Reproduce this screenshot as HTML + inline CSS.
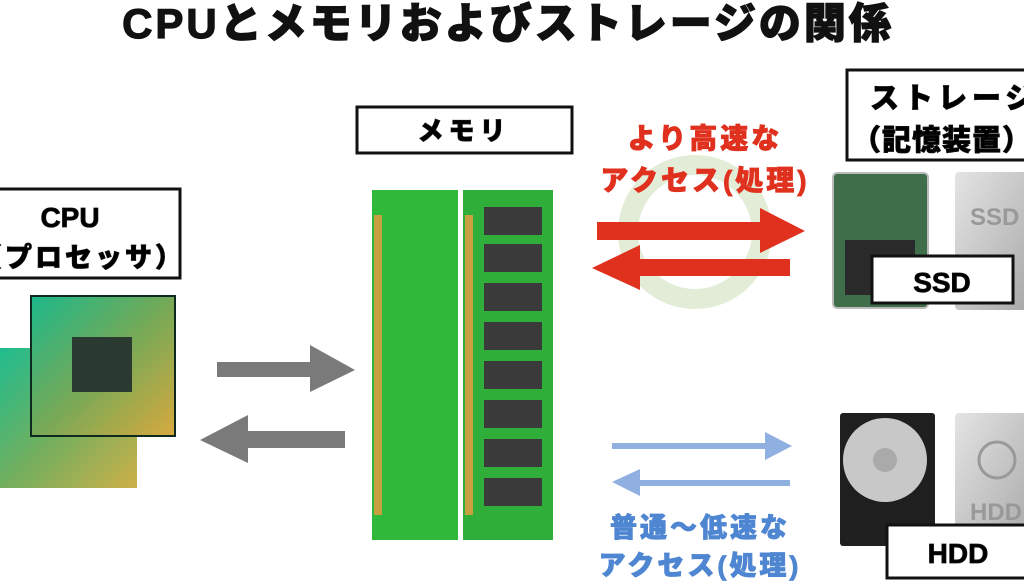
<!DOCTYPE html>
<html><head><meta charset="utf-8"><style>
body{margin:0;width:1024px;height:581px;overflow:hidden;background:#fff;font-family:"Liberation Sans","Noto Sans CJK JP",sans-serif}
svg text{font-family:"Liberation Sans","Noto Sans CJK JP",sans-serif;font-weight:900}
</style></head><body>
<svg width="1024" height="581" viewBox="0 0 1024 581">
<defs>
<linearGradient id="cpu" x1="0" y1="0" x2="1" y2="1">
<stop offset="0" stop-color="#1fbf8f"/><stop offset="0.5" stop-color="#7ab05a"/><stop offset="1" stop-color="#e0b040"/></linearGradient>
<linearGradient id="gr" x1="0" y1="0" x2="1" y2="1"><stop offset="0" stop-color="#e4e4e4"/><stop offset="1" stop-color="#a8a8a8"/></linearGradient>
</defs>
<text x="508" y="38" font-size="42" text-anchor="middle" fill="#111" letter-spacing="3" stroke="#111" stroke-width="1.2">CPUとメモリおよびストレージの関係</text>

<!-- CPU -->
<rect x="-10" y="189" width="190" height="89" fill="#fff" stroke="#111" stroke-width="3"/>
<text x="70" y="227" font-size="28" text-anchor="middle" stroke="#111" stroke-width="0.8">CPU</text>
<text x="80" y="267" font-size="27" text-anchor="middle" letter-spacing="3" stroke="#111" stroke-width="0.8">（プロセッサ）</text>
<rect x="0" y="348" width="137" height="140" fill="#1ea88a"/>
<rect x="0" y="348" width="137" height="140" fill="url(#cpu)" opacity="0.9"/>
<rect x="30" y="295" width="146" height="142" fill="#0e2a20"/>
<rect x="32" y="297" width="142" height="138" fill="url(#cpu)" opacity="0.95"/>
<rect x="72" y="337" width="60" height="55" fill="#2a3a30"/>
<polygon points="217,362 310,362 310,345 355,370 310,392 310,377 217,377" fill="#7a7a7a"/>
<polygon points="345,431 248,431 248,415 200,440 248,463 248,448 345,448" fill="#7a7a7a"/>

<!-- Memory -->
<rect x="357" y="107" width="215" height="46" fill="#fff" stroke="#111" stroke-width="3"/>
<text x="464" y="140" font-size="26" text-anchor="middle" letter-spacing="5" stroke="#111" stroke-width="0.8">メモリ</text>
<rect x="372" y="190" width="86" height="350" fill="#2fb83a"/>
<rect x="374" y="215" width="8" height="300" fill="#c8a040"/>
<rect x="463" y="190" width="90" height="350" fill="#2fae3a"/>
<rect x="465" y="215" width="8" height="300" fill="#c8a040"/>
<g fill="#3a3a3a">
<rect x="484" y="207" width="58" height="28"/><rect x="484" y="244" width="58" height="28"/><rect x="484" y="283" width="58" height="28"/><rect x="484" y="322" width="58" height="28"/><rect x="484" y="361" width="58" height="28"/><rect x="484" y="400" width="58" height="28"/><rect x="484" y="439" width="58" height="28"/><rect x="484" y="478" width="58" height="28"/></g>

<!-- fast -->
<circle cx="695" cy="232" r="67" fill="none" stroke="#e2ecd6" stroke-width="20"/>
<text x="705" y="148" font-size="28" text-anchor="middle" fill="#e0301e" letter-spacing="3" stroke="#e0301e" stroke-width="0.8">より高速な</text>
<text x="705" y="190" font-size="28" text-anchor="middle" fill="#e0301e" letter-spacing="3" stroke="#e0301e" stroke-width="0.8">アクセス(処理)</text>
<polygon points="597,222 760,222 760,208 805,231 760,253 760,240 597,240" fill="#e0301e"/>
<polygon points="790,259 640,259 640,245 592,268 640,290 640,276 790,276" fill="#e0301e"/>

<!-- slow -->
<polygon points="612,443 765,443 765,432 792,446 765,460 765,449 612,449" fill="#8fb0e0"/>
<polygon points="790,480 640,480 640,469 612,482 640,496 640,486 790,486" fill="#8fb0e0"/>
<text x="700" y="537" font-size="27" text-anchor="middle" fill="#4f86d2" letter-spacing="3" stroke="#4f86d2" stroke-width="0.8">普通〜低速な</text>
<text x="700" y="575" font-size="27" text-anchor="middle" fill="#4f86d2" letter-spacing="3" stroke="#4f86d2" stroke-width="0.8">アクセス(処理)</text>

<!-- storage -->
<rect x="847" y="70" width="190" height="90" fill="#fff" stroke="#111" stroke-width="3"/>
<text x="870" y="108" font-size="29" letter-spacing="5" stroke="#111" stroke-width="0.8">ストレージ</text>
<text x="852" y="150" font-size="29" letter-spacing="1" stroke="#111" stroke-width="0.8">（記憶装置）</text>
<rect x="833" y="173" width="95" height="135" rx="4" fill="#3f6f4a" stroke="#bbb" stroke-width="2"/>
<rect x="845" y="240" width="70" height="55" fill="#2a2a2a"/>
<rect x="955" y="172" width="75" height="138" rx="4" fill="url(#gr)"/>
<text x="970" y="225" font-size="24" fill="#999" font-weight="700">SSD</text>
<rect x="872" y="256" width="141" height="47" fill="#fff" stroke="#111" stroke-width="3"/>
<text x="942" y="292" font-size="28" text-anchor="middle" stroke="#111" stroke-width="0.8">SSD</text>

<rect x="840" y="413" width="95" height="133" rx="3" fill="#1f1f1f"/>
<circle cx="885" cy="460" r="42" fill="#c8c8c8"/>
<circle cx="885" cy="460" r="12" fill="#aaa"/>
<rect x="955" y="413" width="75" height="135" rx="4" fill="url(#gr)"/>
<circle cx="997" cy="460" r="18" fill="none" stroke="#999" stroke-width="3"/>
<text x="970" y="520" font-size="24" fill="#999" font-weight="700">HDD</text>
<rect x="887" y="525" width="145" height="53" fill="#fff" stroke="#111" stroke-width="3"/>
<text x="958" y="563" font-size="28" text-anchor="middle" stroke="#111" stroke-width="0.8">HDD</text>
</svg>
</body></html>
